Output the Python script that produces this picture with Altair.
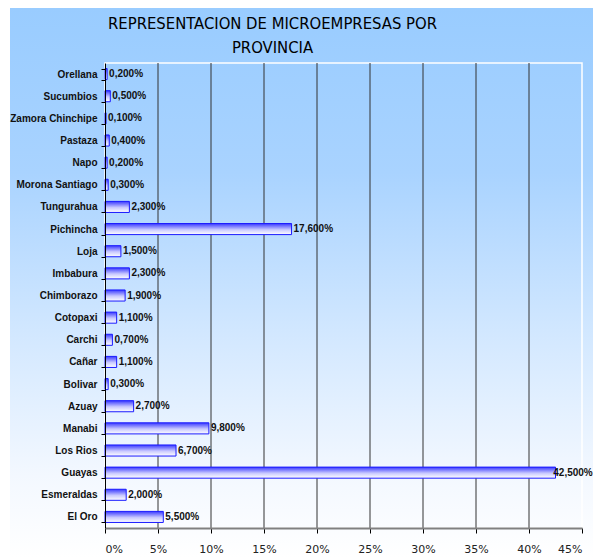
import altair as alt
import pandas as pd

provincias = ["Orellana", "Sucumbios", "Zamora Chinchipe", "Pastaza", "Napo",
              "Morona Santiago", "Tungurahua", "Pichincha", "Loja", "Imbabura",
              "Chimborazo", "Cotopaxi", "Carchi", "Cañar", "Bolivar", "Azuay",
              "Manabi", "Los Rios", "Guayas", "Esmeraldas", "El Oro"]
porcentajes = [0.2, 0.5, 0.1, 0.4, 0.2, 0.3, 2.3, 17.6, 1.5, 2.3,
               1.9, 1.1, 0.7, 1.1, 0.3, 2.7, 9.8, 6.7, 42.5, 2.0, 5.5]
x_ticks = [0, 5, 10, 15, 20, 25, 30, 35, 40, 45]
grid_vals = [5, 10, 15, 20, 25, 30, 35, 40]
titulo = ["REPRESENTACION DE MICROEMPRESAS POR", "PROVINCIA"]

df = pd.DataFrame({
    "provincia": provincias,
    "valor": porcentajes,
    "etiqueta": [f"{v:.3f}".replace(".", ",") + "%" for v in porcentajes],
})

W, H = 477, 465
FONT = "Liberation Sans, Arial, sans-serif"
TFONT = "DejaVu Sans Condensed, DejaVu Sans, sans-serif"

xscale = alt.Scale(domain=[0, 45], nice=False, zero=True)
yscale = alt.Scale(domain=provincias, paddingInner=0.5, paddingOuter=0.25)

bg_grad = {"gradient": "linear", "x1": 0, "y1": 0, "x2": 0, "y2": 1,
           "stops": [{"offset": 0, "color": "#99ccff"},
                     {"offset": 0.3, "color": "#a9d3ff"},
                     {"offset": 0.6, "color": "#d3e8ff"},
                     {"offset": 0.85, "color": "#f3f8ff"},
                     {"offset": 1, "color": "#ffffff"}]}
bar_grad = {"gradient": "linear", "x1": 0, "y1": 0, "x2": 0, "y2": 1,
            "stops": [{"offset": 0, "color": "#3a3aff"},
                      {"offset": 0.55, "color": "#c8c8ff"},
                      {"offset": 1, "color": "#ffffff"}]}

background = alt.Chart(alt.Data(values=[{}])).mark_rect(fill=bg_grad).encode(
    x=alt.value(-95), x2=alt.value(W + 11), y=alt.value(-55), y2=alt.value(H + 30)
)

frame = alt.Chart(alt.Data(values=[{}])).mark_rect(
    fill=None, stroke="white", strokeWidth=1.5
).encode(x=alt.value(0), x2=alt.value(W), y=alt.value(0), y2=alt.value(H))

grid = alt.Chart(pd.DataFrame({"g": grid_vals})).mark_rule(
    color="#333333", strokeWidth=1
).encode(x=alt.X("g:Q", scale=xscale))

base = alt.Chart(df)

bars = base.mark_bar(fill=bar_grad, stroke="#1a1aff", strokeWidth=1).encode(
    x=alt.X("valor:Q", scale=xscale,
            axis=alt.Axis(values=x_ticks, labelExpr="datum.value + '%'", title=None,
                          grid=False, domainColor="#808080", domainWidth=2,
                          tickColor="#000000", tickSize=5, labelPadding=10,
                          labelFont="DejaVu Sans", labelFontSize=11,
                          labelColor="#222222", zindex=1)),
    y=alt.Y("provincia:N", scale=yscale, sort=provincias,
            axis=alt.Axis(title=None, grid=False, tickBand="extent",
                          domainColor="#000000", domainWidth=1,
                          tickColor="#000000", tickSize=4, labelPadding=4,
                          labelFont=FONT, labelFontSize=10, labelFontWeight="bold",
                          labelColor="#111111", zindex=1)),
)

# the longest label is pulled back over its bar end, as in the original
labels = base.transform_calculate(
    labx="min(datum.valor, 42.1)"
).mark_text(align="left", baseline="middle", dx=2, font=FONT,
            fontSize=10, fontWeight="bold", color="#111111").encode(
    x=alt.X("labx:Q", scale=xscale),
    y=alt.Y("provincia:N", scale=yscale, sort=provincias),
    text="etiqueta:N",
)

chart = alt.layer(background, frame, grid, bars, labels).properties(
    width=W, height=H,
    autosize=alt.AutoSizeParams(type="none"),
    padding={"left": 97, "top": 55, "right": 11, "bottom": 29},
    background="white",
    title=alt.TitleParams(text=titulo, font=TFONT, fontSize=16.5, fontWeight="normal",
                          color="#000000", anchor="middle", dx=-71, dy=48,
                          offset=0, lineHeight=24),
).configure_view(stroke=None)

chart.save("out.html", embed_options={"renderer": "svg", "actions": False})
